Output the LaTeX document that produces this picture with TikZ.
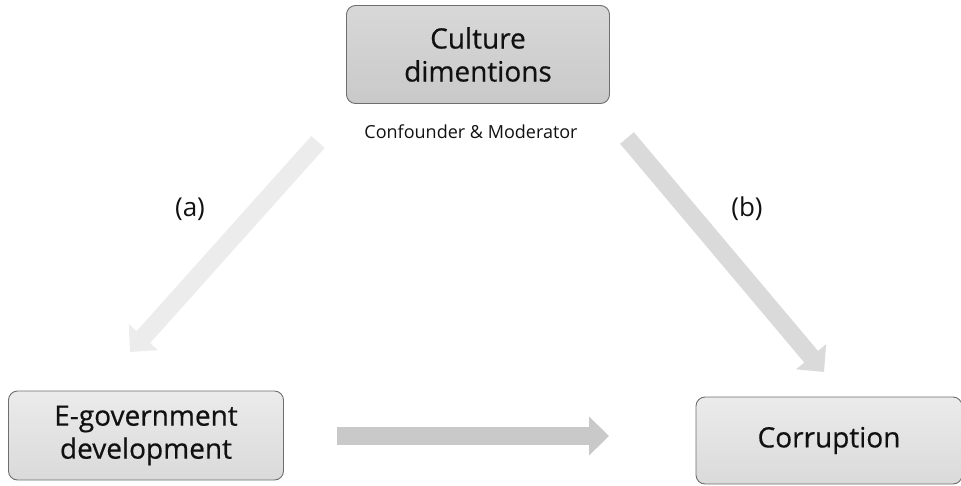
\documentclass[tikz,border=0pt]{standalone}
\usepackage{fontspec}
\setmainfont{Open Sans}
\newfontfamily\boxfont{Open Sans}[FakeBold=0.5]
\usetikzlibrary{arrows.meta}
\definecolor{boxline}{HTML}{6E6E6E}
\definecolor{boxtopA}{HTML}{D8D8D8}
\definecolor{boxbotA}{HTML}{C9C9C9}
\definecolor{boxtopB}{HTML}{EBEBEB}
\definecolor{boxbotB}{HTML}{DADADA}
\definecolor{arrA}{HTML}{ECECEC}
\definecolor{arrB}{HTML}{DADADA}
\definecolor{arrC}{HTML}{C9C9C9}
\definecolor{txt}{HTML}{111111}
\tikzset{
  darkbox/.style={draw=boxline, line width=0.9pt, rounded corners=9pt,
    top color=boxtopA, bottom color=boxbotA, text=txt,
    align=center, font=\boxfont\fontsize{28}{33}\selectfont, inner sep=0pt},
  lightbox/.style={draw=boxline, line width=0.9pt, rounded corners=9pt,
    top color=boxtopB, bottom color=boxbotB, text=txt,
    align=center, font=\boxfont\fontsize{28}{33}\selectfont, inner sep=0pt},
  bigarrow/.style={line width=18pt, draw=#1,
    -{Triangle[width=38pt,length=20pt,fill=#1,color=#1]}},
  lbl/.style={text=txt, font=\fontsize{26}{30}\selectfont},
  note/.style={text=txt, font=\fontsize{18}{22}\selectfont}
}
\begin{document}
\begin{tikzpicture}[x=1pt,y=-1pt]
\useasboundingbox (0,0) rectangle (961,485);
\node[darkbox, minimum width=263pt, minimum height=98pt] (culture) at (478,54.5) {Culture\\dimentions};
\node[lightbox, minimum width=275pt, minimum height=89pt] (egov) at (146,435.5) {E-government\\development};
\node[lightbox, minimum width=266pt, minimum height=87pt] (corr) at (829,440.5) {Corruption};
\node[note] (role) at (471,132) {Confounder \& Moderator};
\coordinate (atail) at (318,142);
\coordinate (ahead) at (130,352);
\coordinate (btail) at (627,138);
\coordinate (bhead) at (824,372);
\coordinate (ctail) at (337,436);
\coordinate (chead) at (609,436);
\draw[bigarrow=arrA] (atail) -- (ahead);
\draw[bigarrow=arrB] (btail) -- (bhead);
\draw[bigarrow=arrC] (ctail) -- (chead);
\node[lbl] (la) at (190,209) {(a)};
\node[lbl] (lb) at (747,209) {(b)};
\end{tikzpicture}
\end{document}
